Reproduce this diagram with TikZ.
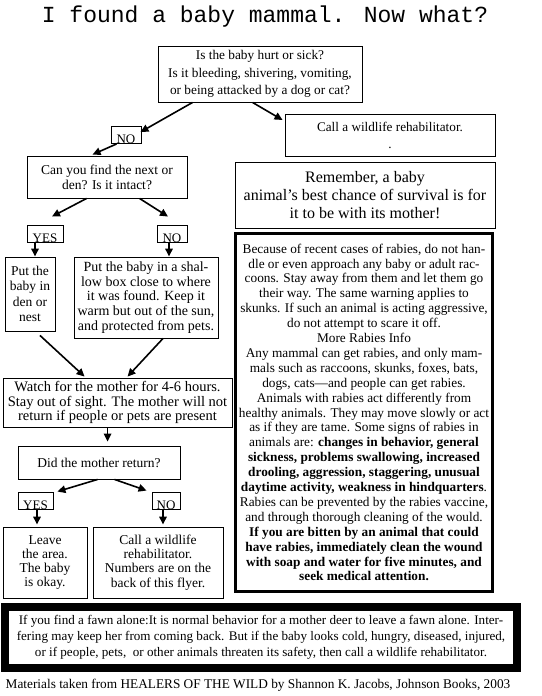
\documentclass[tikz,border=0pt]{standalone}
\usepackage{fontspec}
\setmainfont{Liberation Serif}
\newfontfamily\titlefont{Liberation Mono}
\usetikzlibrary{arrows.meta,calc}
\begin{document}
\begin{tikzpicture}[x=1pt,y=-1pt,
  box/.style={draw,line width=0.9pt,inner sep=0pt,align=center,font=\fontsize{13.5}{15}\selectfont},
  lbl/.style={draw,line width=0.9pt,inner sep=0pt,minimum height=17pt,font=\fontsize{13}{15}\selectfont},
  arr/.style={line width=1.6pt,-{Triangle[length=8pt,width=7.5pt]}}]
\useasboundingbox (0,0) rectangle (541,696);
\fill[white] (0,0) rectangle (541,696);
\node[font=\titlefont\fontsize{23}{26}\selectfont] (title) at (265,17) {I found a baby mammal. Now what?};
\node[box,minimum width=204pt,minimum height=56pt,font=\fontsize{13.3}{17.5}\selectfont] (q1) at (260,74)
  {Is the baby hurt or sick?\\Is it bleeding, shivering, vomiting,\\or being attacked by a dog or cat?};
\node[lbl,minimum width=30pt] (no1) at (126,135) {\raisebox{-8.5pt}[0pt][0pt]{NO}};
\node[box,minimum width=160pt,minimum height=42pt] (den) at (107,177) {Can you find the next or\\den? Is it intact?};
\node[box,minimum width=210pt,minimum height=42pt,font=\fontsize{13.2}{17}\selectfont] (call1) at (390,135)
  {Call a wildlife rehabilitator.\\.};
\node[box,minimum width=260pt,minimum height=66pt,font=\fontsize{16}{18}\selectfont] (rem) at (365,195)
  {Remember, a baby\\animal’s best chance of survival is for\\it to be with its mother!};
\node[lbl,minimum width=36pt] (yes1) at (45,233.5) {\raisebox{-8.5pt}[0pt][0pt]{YES}};
\node[lbl,minimum width=30pt] (no2) at (172,233.5) {\raisebox{-8.5pt}[0pt][0pt]{NO}};
\node[box,minimum width=50pt,minimum height=74pt,font=\fontsize{13.5}{15.5}\selectfont] (put1) at (30,294)
  {Put the\\baby in\\den or\\nest};
\node[box,minimum width=144pt,minimum height=81pt,font=\fontsize{14}{14.7}\selectfont] (put2) at (146,297.5)
  {Put the baby in a shal-\\low box close to where\\it was found. Keep it\\warm but out of the sun,\\and protected from pets.};
\node[box,minimum width=229pt,minimum height=49pt,font=\fontsize{14.5}{14.5}\selectfont] (watch) at (117.5,402.5)
  {Watch for the mother for 4-6 hours.\\Stay out of sight. The mother will not\\return if people or pets are present};
\node[box,minimum width=162pt,minimum height=33pt] (did) at (99,462.5) {Did the mother return?};
\node[lbl,minimum width=35pt] (yes3) at (35.5,500.5) {\raisebox{-8.5pt}[0pt][0pt]{YES}};
\node[lbl,minimum width=28pt] (no3) at (166,500.5) {\raisebox{-8.5pt}[0pt][0pt]{NO}};
\node[box,minimum width=84pt,minimum height=71pt,font=\fontsize{13.5}{14.3}\selectfont] (leave) at (45,562.5)
  {Leave\\the area.\\The baby\\is okay.};
\node[box,minimum width=130pt,minimum height=71pt,font=\fontsize{13.5}{14.3}\selectfont] (call2) at (158,562.5)
  {Call a wildlife\\rehabilitator.\\Numbers are on the\\back of this flyer.};
\node[box,line width=3pt,minimum width=257pt,minimum height=358pt,font=\fontsize{13.3}{14.9}\selectfont] (rab) at (364,412.5)
  {Because of recent cases of rabies, do not han-\\
   dle or even approach any baby or adult rac-\\
   coons. Stay away from them and let them go\\
   their way. The same warning applies to\\
   skunks. If such an animal is acting aggressive,\\
   do not attempt to scare it off.\\
   More Rabies Info\\
   Any mammal can get rabies, and only mam-\\
   mals such as raccoons, skunks, foxes, bats,\\
   dogs, cats—and people can get rabies.\\
   Animals with rabies act differently from\\
   healthy animals. They may move slowly or act\\
   as if they are tame. Some signs of rabies in\\
   animals are: \textbf{changes in behavior, general}\\
   \textbf{sickness, problems swallowing, increased}\\
   \textbf{drooling, aggression, staggering, unusual}\\
   \textbf{daytime activity, weakness in hindquarters}.\\
   Rabies can be prevented by the rabies vaccine,\\
   and through thorough cleaning of the would.\\
   \textbf{If you are bitten by an animal that could}\\
   \textbf{have rabies, immediately clean the wound}\\
   \textbf{with soap and water for five minutes, and}\\
   \textbf{seek medical attention.}};
\node[box,line width=8pt,minimum width=512pt,minimum height=61pt,font=\fontsize{13.1}{16}\selectfont] (fawn) at (261,637.5)
  {If you find a fawn alone:It is normal behavior for a mother deer to leave a fawn alone. Inter-\\
   fering may keep her from coming back. But if the baby looks cold, hungry, diseased, injured,\\
   or if people, pets,\ \ or other animals threaten its safety, then call a wildlife rehabilitator.};
\node[font=\fontsize{13.3}{15}\selectfont] (foot) at (258,685)
  {Materials taken from HEALERS OF THE WILD by Shannon K. Jacobs, Johnson Books, 2003};
% connectors
\draw[arr] ($(q1.south west)+(35,0)$) -- ($(no1.north east)+(-1,6)$);
\draw[arr] ($(q1.south west)+(95,0)$) -- ($(call1.west)+(-2,-15)$);
\draw[arr] ($(no1.south west)+(6,0)$) -- ($(den.north west)+(66,-1)$);
\draw[arr] ($(den.south west)+(60,0)$) -- ($(yes1.north)+(7,-8)$);
\draw[arr] ($(den.south west)+(113,0)$) -- ($(no2.north)+(-4,-8)$);
\draw[arr] ($(yes1.south)+(-10,0)$) -- ($(put1.north)+(5,0)$);
\draw[arr] ($(no2.south)+(-3,0)$) -- ($(put2.north)+(23,0)$);
\draw[arr] ($(put1.south)+(10,4)$) -- ($(watch.north west)+(82,-1)$);
\draw[arr] ($(put2.south)+(17,0)$) -- ($(watch.north west)+(125,-1)$);
\draw[arr] ($(watch.south west)+(105,0)$) -- ($(did.north west)+(90,-4)$);
\draw[arr] ($(did.south west)+(80,0)$) -- ($(yes3.north east)+(4,0)$);
\draw[arr] ($(did.south west)+(97,0)$) -- ($(no3.north west)+(-5,-1)$);
\draw[arr] ($(yes3.south)+(1.5,0)$) -- ($(leave.north)+(-8,-2)$);
\draw[arr] ($(no3.south)+(-3,0)$) -- ($(call2.north)+(5,-2)$);
\end{tikzpicture}
\end{document}
